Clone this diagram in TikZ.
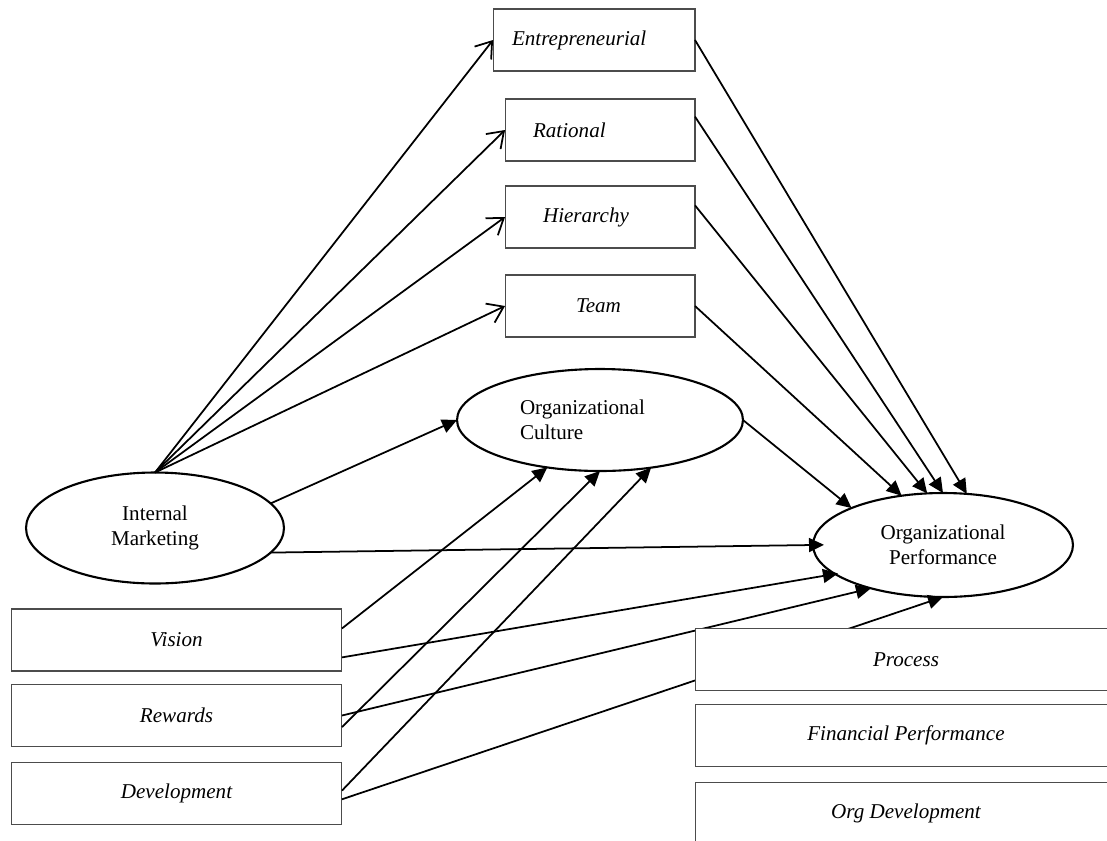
\documentclass[tikz,border=0pt]{standalone}
\usepackage{fontspec}
\setmainfont{Liberation Serif}
\usetikzlibrary{arrows.meta,shapes.geometric}

\begin{document}
\begin{tikzpicture}[
  x=0.02cm, y=-0.02cm,
  box/.style={draw=black!70, line width=0.6pt, fill=white,
    minimum height=1.24cm, inner sep=0pt, outer sep=0pt,
    font=\fontsize{12}{14}\selectfont\itshape},
  construct/.style={ellipse, draw, line width=1.2pt, fill=white,
    inner sep=0pt, outer sep=0pt, align=center,
    font=\fontsize{12}{14}\selectfont},
  link/.style={-{Triangle[length=0.3cm, width=0.28cm]}, line width=1pt},
  openlink/.style={-{Straight Barb[length=0.3cm, width=0.42cm]}, line width=1pt},
]
  \useasboundingbox (0,0) rectangle (1107,840);
  \clip (0,0) rectangle (1107,840);
  % Culture types
  \node[box, minimum width=4.04cm, anchor=east, text width=3.28cm, align=left] (ent)
    at (695,40) {Entrepreneurial};
  \foreach \n/\t/\y/\w in {rat/Rational/130/2.68cm, hier/Hierarchy/217/2.28cm,
    team/Team/306/0.96cm}{
    \node[box, minimum width=3.8cm, anchor=east, text width=\w, align=left] (\n)
      at (695,\y) {\t};
  }
  % Constructs
  \node[construct, minimum width=5.16cm, minimum height=2.22cm] (im) at (155,528)
    {Internal\\Marketing};
  \node[construct, minimum width=5.72cm, minimum height=2.04cm, text width=3.2cm,
    align=left] (oc) at (600,420) {Organizational\\Culture};
  \node[construct, minimum width=5.2cm, minimum height=2.08cm] (op) at (943,545)
    {Organizational\\Performance};
  % Internal marketing dimensions
  \foreach \n/\t/\y in {vision/Vision/640, rewards/Rewards/715.5, dev/Development/793.5}{
    \node[box, minimum width=6.62cm] (\n) at (176.5,\y) {\t};
  }
  % Internal marketing -> culture types
  \foreach \n in {ent,rat,hier,team}{
    \draw[openlink] (im.north) -- (\n.west);
  }
  % Paths into the constructs
  \draw[link] (im.12) -- (oc.west);
  \draw[link, shorten >=-0.22cm] (im.-12) -- (op.west);
  \draw[link] (oc.east) -- (op.158);
  \draw[link] (ent.east) -- (op.65);
  \draw[link] (rat.8) -- (op.north);
  \draw[link] (hier.7) -- (op.107);
  \draw[link] (team.east) -- (op.130);
  \draw[link] (vision.4) -- (oc.222);
  \draw[link, shorten >=-0.06cm] (vision.-6) -- (op.195);
  \draw[link] (rewards.-4) -- (oc.south);
  \draw[link] (rewards.east) -- (op.211);
  \draw[link] (dev.1) -- (oc.-43);
  \draw[link] (dev.-2) -- (op.south);
  % Performance dimensions
  \foreach \n/\t/\y in {proc/Process/659.5, fin/Financial Performance/735.5,
    orgdev/Org Development/813.5}{
    \node[box, minimum width=8.44cm] (\n) at (906,\y) {\t};
  }
\end{tikzpicture}
\end{document}
